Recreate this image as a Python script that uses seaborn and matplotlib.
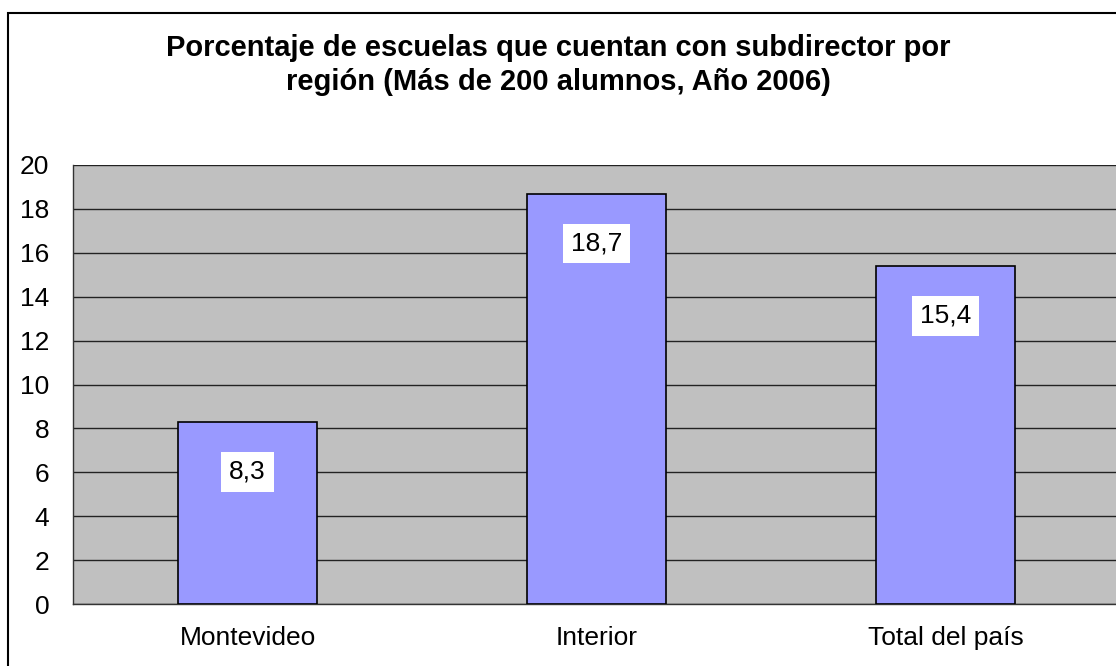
import matplotlib
matplotlib.use("Agg")
import matplotlib.pyplot as plt
import seaborn as sns
import pandas as pd
from matplotlib.patches import Rectangle

categories = ["Montevideo", "Interior", "Total del país"]
values = [8.3, 18.7, 15.4]
value_labels = ["8,3", "18,7", "15,4"]
yticks = [0, 2, 4, 6, 8, 10, 12, 14, 16, 18, 20]
title = "Porcentaje de escuelas que cuentan con subdirector por\nregión (Más de 200 alumnos, Año 2006)"

sns.set_style("white")
plt.rcParams['font.family'] = ['Liberation Sans', 'DejaVu Sans']
plt.rcParams['text.color'] = 'black'
plt.rcParams['xtick.color'] = 'black'
plt.rcParams['ytick.color'] = 'black'

df = pd.DataFrame({"cat": categories, "val": values})

fig = plt.figure(figsize=(11.16, 6.66), dpi=100)
fig.patches.append(Rectangle((8/1116, -0.1), 1.2, 1 - 13/666 + 0.1,
                             transform=fig.transFigure, fill=False,
                             edgecolor="black", linewidth=1.5, zorder=0))
ax = fig.add_axes([73/1116, 1 - 604/666, (1120 - 73)/1116, (604 - 165)/666])
ax.set_facecolor("#C0C0C0")

sns.barplot(data=df, x="cat", y="val", ax=ax, color="#9999FF", width=0.4,
            edgecolor="black", linewidth=1.2, saturation=1, zorder=3)

ax.set_ylim(0, 20)
ax.set_xlim(-0.5, 2.5)
ax.set_yticks(yticks)
ax.set_yticklabels([str(t) for t in yticks], fontsize=19)
ax.yaxis.grid(True, color="#222222", linewidth=1.0, zorder=0)
ax.set_axisbelow(True)

ax.set_xticks([0, 1, 2])
ax.set_xticklabels(categories, fontsize=19)
ax.tick_params(axis="x", which="major", length=0, pad=16)
ax.set_xticks([-0.5, 0.5, 1.5, 2.5], minor=True)
ax.tick_params(axis="x", which="minor", length=8, color="#333333", direction="out")
ax.tick_params(axis="y", length=8, color="#333333", labelcolor="black", direction="out", pad=9)
ax.tick_params(axis="x", labelcolor="black")
ax.set_xlabel("")
ax.set_ylabel("")

for s in ["top", "right"]:
    ax.spines[s].set_visible(False)
for s in ["left", "bottom"]:
    ax.spines[s].set_color("#333333")
    ax.spines[s].set_linewidth(1.0)

for i, (v, lab) in enumerate(zip(values, value_labels)):
    ax.annotate(lab, xy=(i, v), xytext=(0, -36), textcoords="offset points",
                ha="center", va="center", fontsize=19, zorder=5, color="black",
                bbox=dict(boxstyle="square,pad=0.3", facecolor="white", edgecolor="none"))

fig.text(0.5, 1 - 65/666, title, ha="center", va="center", fontsize=21,
         fontweight="bold", linespacing=1.27, color="black")

fig.savefig("out.png", dpi=100)
